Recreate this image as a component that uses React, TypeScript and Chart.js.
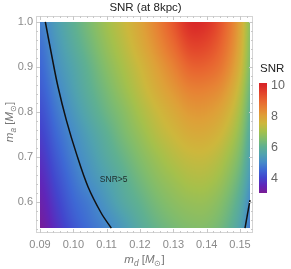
import React, { useEffect, useRef } from "react";
import { Chart, registerables } from "chart.js";

Chart.register(...registerables);

// ---- data ----
const mdGrid = [0.09, 0.095, 0.1, 0.105, 0.11, 0.115, 0.12, 0.125, 0.13, 0.135, 0.14, 0.145, 0.15, 0.155];
const maGrid = [1.0, 0.95, 0.9, 0.85, 0.8, 0.75, 0.7, 0.65, 0.6, 0.55, 0.5];
const snrRows = [
  [4.8, 5.4, 5.95, 6.45, 6.95, 7.4, 7.9, 8.5, 9.2, 9.9, 9.8, 9.1, 7.9, 6.0],
  [4.6, 5.25, 5.8, 6.3, 6.8, 7.25, 7.75, 8.3, 8.9, 9.5, 9.45, 8.9, 7.8, 5.9],
  [4.45, 5.1, 5.6, 6.1, 6.6, 7.05, 7.5, 8.0, 8.5, 9.0, 9.0, 8.6, 7.6, 5.8],
  [4.3, 4.9, 5.45, 5.95, 6.4, 6.85, 7.3, 7.75, 8.15, 8.5, 8.5, 8.2, 7.3, 5.6],
  [4.1, 4.7, 5.25, 5.75, 6.2, 6.6, 7.05, 7.45, 7.8, 8.1, 8.1, 7.8, 7.0, 5.4],
  [3.9, 4.5, 5.02, 5.5, 5.95, 6.4, 6.8, 7.2, 7.5, 7.75, 7.75, 7.45, 6.7, 5.2],
  [3.7, 4.3, 4.85, 5.3, 5.75, 6.15, 6.55, 6.9, 7.2, 7.4, 7.4, 7.1, 6.4, 5.0],
  [3.5, 4.1, 4.65, 5.1, 5.5, 5.9, 6.3, 6.65, 6.9, 7.1, 7.1, 6.8, 6.1, 4.8],
  [3.3, 3.9, 4.45, 4.8, 5.25, 5.7, 6.05, 6.4, 6.65, 6.8, 6.8, 6.5, 5.8, 4.5],
  [3.1, 3.7, 4.25, 4.62, 4.95, 5.35, 5.8, 6.15, 6.4, 6.55, 6.55, 6.25, 5.55, 4.3],
  [2.8, 3.4, 3.95, 4.35, 4.7, 5.1, 5.5, 5.85, 6.1, 6.25, 6.25, 5.95, 5.25, 4.0],
];
const contourLeftMd = [0.0916, 0.0934, 0.0954, 0.0979, 0.1009, 0.1044, 0.1084, 0.1114];
const contourLeftMa = [1.0, 0.93, 0.856, 0.782, 0.708, 0.634, 0.575, 0.542];
const contourRightMd = [0.1515, 0.153];
const contourRightMa = [0.542, 0.604];
const xTicks = [0.09, 0.1, 0.11, 0.12, 0.13, 0.14, 0.15];
const yTicks = [0.6, 0.7, 0.8, 0.9, 1.0];
const colorbarTicks = [4, 6, 8, 10];
const contourLabel = "SNR>5";
const contourLabelAt = [0.1121, 0.65];
const titleText = "SNR (at 8kpc)";
const legendTitle = "SNR";

// ---- ranges / styles ----
const plotMd = [0.09, 0.153];
const plotMa = [0.542, 1.0];
const cbRange = [3.0, 10.13];
const FONT = "'Liberation Sans', Arial, sans-serif";

const cmapStops: [number, number, number, number][] = [
  [3.0, 122, 28, 148],
  [3.5, 95, 38, 185],
  [4.0, 66, 70, 205],
  [4.5, 62, 105, 212],
  [5.0, 70, 140, 200],
  [5.5, 80, 162, 175],
  [6.0, 95, 176, 145],
  [6.5, 128, 188, 108],
  [7.0, 165, 192, 75],
  [7.5, 205, 183, 60],
  [8.0, 222, 160, 56],
  [8.5, 231, 130, 52],
  [9.0, 232, 100, 48],
  [9.5, 226, 68, 43],
  [10.0, 216, 38, 40],
];

function cmap(v: number): [number, number, number] {
  if (v <= cmapStops[0][0]) return [cmapStops[0][1], cmapStops[0][2], cmapStops[0][3]];
  for (let i = 1; i < cmapStops.length; i++) {
    const a = cmapStops[i - 1], b = cmapStops[i];
    if (v <= b[0]) {
      const t = (v - a[0]) / (b[0] - a[0]);
      return [a[1] + t * (b[1] - a[1]), a[2] + t * (b[2] - a[2]), a[3] + t * (b[3] - a[3])];
    }
  }
  const l = cmapStops[cmapStops.length - 1];
  return [l[1], l[2], l[3]];
}

function cr(p0: number, p1: number, p2: number, p3: number, t: number) {
  return 0.5 * (2 * p1 + (-p0 + p2) * t + (2 * p0 - 5 * p1 + 4 * p2 - p3) * t * t + (-p0 + 3 * p1 - 3 * p2 + p3) * t * t * t);
}

function sample(md: number, ma: number) {
  const nx = mdGrid.length, ny = maGrid.length;
  const fx = (md - mdGrid[0]) / (mdGrid[1] - mdGrid[0]);
  const fy = (ma - maGrid[0]) / (maGrid[1] - maGrid[0]);
  const ix = Math.min(nx - 2, Math.max(0, Math.floor(fx)));
  const iy = Math.min(ny - 2, Math.max(0, Math.floor(fy)));
  const tx = fx - ix, ty = fy - iy;
  const cl = (i: number, n: number) => Math.max(0, Math.min(n - 1, i));
  const rowVal = (r: number) => {
    const row = snrRows[cl(r, ny)];
    return cr(row[cl(ix - 1, nx)], row[cl(ix, nx)], row[cl(ix + 1, nx)], row[cl(ix + 2, nx)], tx);
  };
  return cr(rowVal(iy - 1), rowVal(iy), rowVal(iy + 1), rowVal(iy + 2), ty);
}

function drawMath(ctx: CanvasRenderingContext2D, cx: number, cy: number, size: number, sub: string) {
  const parts = [
    { t: "m", it: true, s: false },
    { t: sub, it: true, s: true },
    { t: " [", it: false, s: false },
    { t: "M", it: true, s: false },
    { t: "\u2299", it: false, s: true },
    { t: "]", it: false, s: false },
  ];
  const fontOf = (p: any) => `${p.it ? "italic " : ""}${p.s ? size * 0.72 : size}px ${FONT}`;
  let total = 0;
  const widths = parts.map((p) => {
    ctx.font = fontOf(p);
    const w = ctx.measureText(p.t).width;
    total += w;
    return w;
  });
  let x = cx - total / 2;
  ctx.textBaseline = "alphabetic";
  ctx.textAlign = "left";
  parts.forEach((p, i) => {
    ctx.font = fontOf(p);
    ctx.fillText(p.t, x, cy + (p.s ? size * 0.25 : 0));
    x += widths[i];
  });
}

const heatmapPlugin = {
  id: "heatmap",
  beforeDatasetsDraw(chart: any) {
    const ctx = chart.ctx as CanvasRenderingContext2D;
    const xs = chart.scales.x, ys = chart.scales.y;
    const x0 = Math.round(xs.getPixelForValue(plotMd[0]));
    const x1 = Math.round(xs.getPixelForValue(plotMd[1]));
    const y0 = Math.round(ys.getPixelForValue(plotMa[1]));
    const y1 = Math.round(ys.getPixelForValue(plotMa[0]));
    const w = x1 - x0, h = y1 - y0;
    const img = ctx.createImageData(w, h);
    for (let py = 0; py < h; py++) {
      const ma = ys.getValueForPixel(y0 + py + 0.5);
      for (let px = 0; px < w; px++) {
        const md = xs.getValueForPixel(x0 + px + 0.5);
        const c = cmap(sample(md, ma));
        const k = (py * w + px) * 4;
        img.data[k] = c[0];
        img.data[k + 1] = c[1];
        img.data[k + 2] = c[2];
        img.data[k + 3] = 255;
      }
    }
    ctx.putImageData(img, x0, y0);
  },
};

const decorPlugin = {
  id: "decor",
  afterDraw(chart: any) {
    const ctx = chart.ctx as CanvasRenderingContext2D;
    const a = chart.chartArea;
    const xs = chart.scales.x, ys = chart.scales.y;
    ctx.save();
    // frame
    ctx.strokeStyle = "#d4d4d4";
    ctx.lineWidth = 1;
    ctx.strokeRect(Math.round(a.left) + 0.5, Math.round(a.top) + 0.5, Math.round(a.right - a.left) - 1, Math.round(a.bottom - a.top) - 1);
    ctx.strokeStyle = "#c8c8c8";
    ctx.beginPath();
    for (let v = 0.09; v <= 0.1535; v += 0.002) {
      const major = Math.abs(v * 100 - Math.round(v * 100)) < 1e-6;
      const len = major ? 4 : 2;
      const x = Math.round(xs.getPixelForValue(v)) + 0.5;
      ctx.moveTo(x, a.bottom);
      ctx.lineTo(x, a.bottom - len);
      ctx.moveTo(x, a.top);
      ctx.lineTo(x, a.top + len);
    }
    for (let v = 0.54; v <= 1.001; v += 0.02) {
      const major = Math.abs(v * 10 - Math.round(v * 10)) < 1e-6;
      const len = major ? 4 : 2;
      const y = Math.round(ys.getPixelForValue(v)) + 0.5;
      ctx.moveTo(a.left, y);
      ctx.lineTo(a.left + len, y);
      ctx.moveTo(a.right, y);
      ctx.lineTo(a.right - len, y);
    }
    ctx.stroke();

    // title
    ctx.fillStyle = "#222";
    ctx.font = `11.5px ${FONT}`;
    ctx.textAlign = "center";
    ctx.textBaseline = "middle";
    ctx.fillText(titleText, (a.left + a.right) / 2 + 1, 8);

    // axis titles
    ctx.fillStyle = "#777";
    drawMath(ctx, (a.left + a.right) / 2, 263, 11.5, "d");
    ctx.save();
    ctx.translate(13, 122);
    ctx.rotate(-Math.PI / 2);
    drawMath(ctx, 0, 0, 11.5, "a");
    ctx.restore();

    // contour label
    ctx.fillStyle = "#1e2a2a";
    ctx.font = `8.5px ${FONT}`;
    ctx.textAlign = "center";
    ctx.textBaseline = "middle";
    ctx.fillText(contourLabel, xs.getPixelForValue(contourLabelAt[0]), ys.getPixelForValue(contourLabelAt[1]));

    // colorbar
    const cbX = 259, cbW = 8, cbTop = 83, cbBot = 193;
    const pxPerUnit = (cbBot - cbTop) / (cbRange[1] - cbRange[0]);
    for (let y = cbTop; y < cbBot; y++) {
      const v = cbRange[1] - (y + 0.5 - cbTop) / pxPerUnit;
      const c = cmap(v);
      ctx.fillStyle = `rgb(${c[0]},${c[1]},${c[2]})`;
      ctx.fillRect(cbX, y, cbW, 1);
    }
    ctx.fillStyle = "#666";
    ctx.font = `12.5px ${FONT}`;
    ctx.textAlign = "left";
    ctx.textBaseline = "middle";
    colorbarTicks.forEach((t) => {
      ctx.fillText(String(t), 271, cbTop + (cbRange[1] - t) * pxPerUnit + 0.5);
    });
    ctx.fillStyle = "#222";
    ctx.font = `11.5px ${FONT}`;
    ctx.fillText(legendTitle, 260, 69);
    ctx.restore();
  },
};

export default function App() {
  const ref = useRef<HTMLCanvasElement | null>(null);
  useEffect(() => {
    if (!ref.current) return;
    const chart = new Chart(ref.current, {
      type: "scatter",
      data: {
        datasets: [
          {
            data: contourLeftMd.map((x, i) => ({ x, y: contourLeftMa[i] })),
            showLine: true,
            borderColor: "#111",
            borderWidth: 1.5,
            pointRadius: 0,
            tension: 0.35,
          },
          {
            data: contourRightMd.map((x, i) => ({ x, y: contourRightMa[i] })),
            showLine: true,
            borderColor: "#111",
            borderWidth: 1.5,
            pointRadius: 0,
          },
        ],
      },
      options: {
        animation: false,
        responsive: false,
        devicePixelRatio: 1,
        layout: { padding: { top: 16, right: 38, left: 0, bottom: 0 } },
        plugins: { legend: { display: false }, tooltip: { enabled: false }, title: { display: false } },
        scales: {
          x: {
            type: "linear",
            min: 0.0888,
            max: 0.1539,
            grid: { display: false, drawTicks: false },
            border: { display: false },
            afterBuildTicks: (s: any) => {
              s.ticks = xTicks.map((v) => ({ value: v }));
            },
            afterFit: (s: any) => {
              s.height = 36;
            },
            ticks: {
              autoSkip: false,
              maxRotation: 0,
              padding: 5,
              color: "#8a8a8a",
              font: { family: FONT, size: 11 },
              callback: (v: any) => Number(v).toFixed(2),
            },
          },
          y: {
            type: "linear",
            min: 0.5311,
            max: 1.0133,
            grid: { display: false, drawTicks: false },
            border: { display: false },
            afterBuildTicks: (s: any) => {
              s.ticks = yTicks.map((v) => ({ value: v }));
            },
            afterFit: (s: any) => {
              s.width = 36;
            },
            ticks: {
              autoSkip: false,
              padding: 3,
              color: "#8a8a8a",
              font: { family: FONT, size: 11 },
              callback: (v: any) => Number(v).toFixed(1),
            },
          },
        },
      },
      plugins: [heatmapPlugin, decorPlugin],
    } as any);
    return () => chart.destroy();
  }, []);
  return (
    <div style={{ position: "fixed", left: 0, top: 0, width: 291, height: 269, background: "#fff" }}>
      <canvas ref={ref} width={291} height={269} style={{ display: "block", width: 291, height: 269 }} />
    </div>
  );
}
